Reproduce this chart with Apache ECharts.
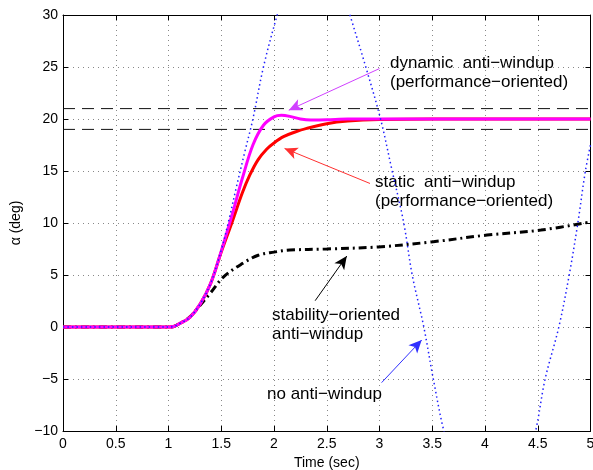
<!DOCTYPE html>
<html>
<head>
<meta charset="utf-8">
<script src="https://cdn.jsdelivr.net/npm/echarts@6/dist/echarts.min.js"></script>
<style>html,body{margin:0;padding:0;background:#fff}#c{width:593px;height:470px}</style>
</head>
<body>
<div id="c"></div>
<script>
// ---- data ----
var xTicks = [0, 0.5, 1, 1.5, 2, 2.5, 3, 3.5, 4, 4.5, 5];
var yTicks = [-10, -5, 0, 5, 10, 15, 20, 25, 30];

var noAntiWindup = [[0,0],[1.0,0],[1.05,0.05],[1.1,0.3],[1.2,0.9],[1.3,2.2],[1.4,4.2],[1.5,7.4],[1.57,10.2],[1.64,13.3],[1.72,16.7],[1.8,20],[1.9,25],[2.03,30],[2.15,34],[2.3,37],[2.45,37],[2.6,34],[2.72,30],[2.87,25],[3.01,20],[3.12,15],[3.23,10],[3.31,5],[3.42,0],[3.51,-5],[3.61,-10],[3.75,-15],[4.05,-20],[4.35,-15],[4.48,-10],[4.57,-5],[4.70,0],[4.80,5.1],[4.88,10],[4.95,14.9],[5.0,17.5]];

var dynamicAW = [[0,0],[1.0,0],[1.05,0.05],[1.1,0.3],[1.2,0.9],[1.3,2.2],[1.4,4.2],[1.5,7.3],[1.6,10.7],[1.7,14.3],[1.8,17.5],[1.9,19.4],[2.0,20.2],[2.07,20.35],[2.15,20.25],[2.25,20.0],[2.35,19.9],[2.5,19.92],[2.7,20.0],[3.0,20.0],[5,20]];

var staticAW = [[0,0],[1.0,0],[1.05,0.05],[1.1,0.3],[1.2,0.9],[1.3,2.2],[1.4,4.2],[1.5,7.2],[1.6,10.0],[1.7,12.9],[1.77,14.6],[1.85,16.1],[1.93,17.1],[2.0,17.7],[2.09,18.3],[2.2,18.75],[2.31,19.1],[2.5,19.55],[2.7,19.8],[3.0,19.95],[3.5,20],[5,20]];

var stabilityAW = [[0,0],[1.0,0],[1.05,0.05],[1.1,0.3],[1.2,0.95],[1.3,2.1],[1.4,3.3],[1.52,4.8],[1.7,6.1],[1.85,6.9],[2.0,7.2],[2.15,7.4],[2.5,7.5],[2.99,7.7],[3.51,8.2],[4.02,8.84],[4.53,9.32],[5.0,10.1]];

var upperBound = [[0,21],[5,21]];
var lowerBound = [[0,19],[5,19]];

// annotation arrows: [tail, tip] in data coordinates
var arrowDynamic = [[3.0,24.85],[2.14,20.85]];
var arrowStatic = [[2.91,13.8],[2.10,17.17]];
var arrowStability = [[2.39,2.53],[2.69,6.82]];
var arrowNoAW = [[3.02,-5.35],[3.40,-1.25]];

var labels = {
  dynamic: ['dynamic  anti\u2212windup', '(performance\u2212oriented)'],
  static: ['static  anti\u2212windup', '(performance\u2212oriented)'],
  stability: ['stability\u2212oriented', 'anti\u2212windup'],
  noAW: ['no anti\u2212windup']
};

var FONT = '"Liberation Sans", Arial, Helvetica, sans-serif';

function arrowSeries(pts, color) {
  return {
    type: 'line', data: [], silent: true,
    markLine: {
      silent: true, animation: false,
      symbol: ['none', 'arrow'], symbolSize: [9, 13],
      label: { show: false },
      lineStyle: { color: color, width: 1, type: 'solid' },
      emphasis: { disabled: true },
      data: [[{ coord: pts[0] }, { coord: pts[1] }]]
    }
  };
}

function txt(lines, x, y) {
  return lines.map(function (t, i) {
    return { type: 'text', x: x, y: y + i * 19.5, silent: true,
      style: { text: t, font: '17px ' + FONT, fill: '#000', verticalAlign: 'middle', align: 'left' } };
  });
}

var chart = echarts.init(document.getElementById('c'), null, { renderer: 'canvas' });

var axisCommon = {
  type: 'value',
  axisLine: { show: true, onZero: false, lineStyle: { color: '#000', width: 1 } },
  axisTick: { show: true, inside: true, length: 5, lineStyle: { color: '#000' } },
};

var curveCommon = { type: 'line', showSymbol: false, silent: true, smooth: 0.35 };

chart.setOption({
  animation: false,
  backgroundColor: '#fff',
  grid: { left: 63, right: 2.5, top: 15, bottom: 39, containLabel: false, outerBoundsMode: 'none' },
  xAxis: [
    Object.assign({}, axisCommon, {
      min: xTicks[0], max: xTicks[xTicks.length - 1], interval: xTicks[1] - xTicks[0],
      position: 'bottom',
      name: 'Time (sec)', nameLocation: 'middle', nameGap: 23,
      nameTextStyle: { fontFamily: FONT, fontSize: 14, color: '#000' },
      axisLabel: { fontFamily: FONT, fontSize: 14, color: '#000', margin: 6 },
      splitLine: { show: true, lineStyle: { color: '#888', width: 1, type: [1, 4] } }
    }),
    Object.assign({}, axisCommon, {
      min: xTicks[0], max: xTicks[xTicks.length - 1], interval: xTicks[1] - xTicks[0],
      position: 'top', axisLabel: { show: false }, splitLine: { show: false }
    })
  ],
  yAxis: [
    Object.assign({}, axisCommon, {
      min: yTicks[0], max: yTicks[yTicks.length - 1], interval: yTicks[1] - yTicks[0],
      position: 'left',
      name: '\u03b1 (deg)', nameLocation: 'middle', nameGap: 30, nameRotate: 90,
      nameTextStyle: { fontFamily: FONT, fontSize: 14, color: '#000' },
      axisLabel: { fontFamily: FONT, fontSize: 14, color: '#000', margin: 5,
        formatter: function (v) { return String(v).replace('-', '\u2212'); } },
      splitLine: { show: true, lineStyle: { color: '#888', width: 1, type: [1, 4] } }
    }),
    Object.assign({}, axisCommon, {
      min: yTicks[0], max: yTicks[yTicks.length - 1], interval: yTicks[1] - yTicks[0],
      position: 'right', axisLabel: { show: false }, splitLine: { show: false }
    })
  ],
  series: [
    { type: 'line', data: upperBound, showSymbol: false, silent: true,
      lineStyle: { color: '#111', width: 1, type: [12, 7] } },
    { type: 'line', data: lowerBound, showSymbol: false, silent: true,
      lineStyle: { color: '#111', width: 1, type: [12, 7] } },
    Object.assign({}, curveCommon, { data: stabilityAW,
      lineStyle: { color: '#000', width: 3, type: [8, 4, 2, 4] } }),
    Object.assign({}, curveCommon, { data: staticAW,
      lineStyle: { color: '#ff0000', width: 3 } }),
    Object.assign({}, curveCommon, { data: dynamicAW,
      lineStyle: { color: '#ff00ff', width: 3 } }),
    Object.assign({}, curveCommon, { data: noAntiWindup,
      lineStyle: { color: '#1f1fff', width: 1.5, type: [1.5, 3] } }),
    arrowSeries(arrowDynamic, '#d040ff'),
    arrowSeries(arrowStatic, '#ff3030'),
    arrowSeries(arrowStability, '#000000'),
    arrowSeries(arrowNoAW, '#3030ff')
  ],
  graphic: [].concat(
    txt(labels.dynamic, 390, 63),
    txt(labels.static, 375, 182),
    txt(labels.stability, 272, 315),
    txt(labels.noAW, 267, 394)
  )
});
</script>
</body>
</html>
